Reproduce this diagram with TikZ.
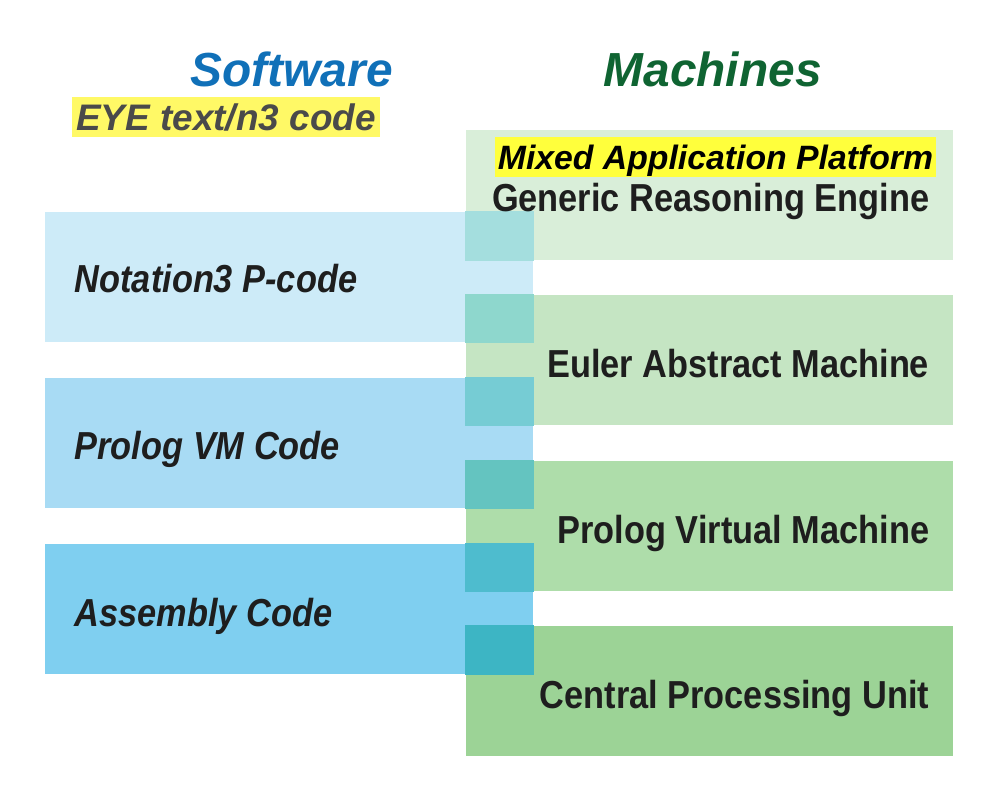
\documentclass[tikz,border=0pt]{standalone}
\usepackage{fontspec}
\setmainfont{Liberation Sans}
\newfontfamily\condsans[FakeStretch=0.88]{Liberation Sans}
\usetikzlibrary{positioning}

\definecolor{swblue}{HTML}{1070B8}
\definecolor{mcgreen}{HTML}{0F6432}
\definecolor{inkdark}{HTML}{1E1E1E}
\definecolor{eyegray}{HTML}{4A4A4A}
\definecolor{hlpale}{HTML}{FFF966}
\definecolor{hlbright}{HTML}{FFFF3C}
\definecolor{grnA}{HTML}{D9EED9}
\definecolor{grnB}{HTML}{C5E5C3}
\definecolor{grnC}{HTML}{AEDDAA}
\definecolor{grnD}{HTML}{9CD396}
\definecolor{bluA}{HTML}{CDEBF8}
\definecolor{bluB}{HTML}{A8DBF4}
\definecolor{bluC}{HTML}{7FCFF0}

\begin{document}
\begin{tikzpicture}[x=0.01cm,y=-0.01cm,
    mbox/.style={inner sep=0,minimum width=4.87cm,minimum height=1.3cm},
    sbox/.style={inner sep=0,minimum width=4.88cm,minimum height=1.3cm},
    mlabel/.style={anchor=base east,inner sep=0,text=inkdark,
      font=\condsans\bfseries\fontsize{11.1}{13}\selectfont},
    slabel/.style={anchor=base west,inner sep=0,text=inkdark,
      font=\condsans\bfseries\itshape\fontsize{11.1}{13}\selectfont},
    title/.style={anchor=base west,inner sep=0,
      font=\bfseries\itshape\fontsize{13.6}{16}\selectfont}]
\useasboundingbox (0,0) rectangle (1000,800);

% machines column
\node[mbox,fill=grnA] (gre) at (709.5,195) {};
\node[mbox,fill=grnB] (eam) at (709.5,360) {};
\node[mbox,fill=grnC] (pvm) at (709.5,526) {};
\node[mbox,fill=grnD] (cpu) at (709.5,691) {};

% software column
\node[sbox,fill=bluA] (ncode) at (289,277) {};
\node[sbox,fill=bluB] (pcode) at (289,443) {};
\node[sbox,fill=bluC] (acode) at (289,609) {};

% overlaps
\fill[fill={rgb,255:red,164;green,222;blue,222}] (gre.south west) rectangle (ncode.north east);
\fill[fill={rgb,255:red,142;green,215;blue,205}] (eam.north west) rectangle (ncode.south east);
\fill[fill={rgb,255:red,118;green,204;blue,212}] (eam.south west) rectangle (pcode.north east);
\fill[fill={rgb,255:red,100;green,196;blue,192}] (pvm.north west) rectangle (pcode.south east);
\fill[fill={rgb,255:red,78;green,188;blue,206}] (pvm.south west) rectangle (acode.north east);
\fill[fill={rgb,255:red,61;green,181;blue,196}] (cpu.north west) rectangle (acode.south east);

% titles
\node[title,text=swblue] (sw) at (190,87) {Software};
\node[title,text=mcgreen] (mc) at (603,87) {Machines};
\node[fill=hlpale,text=eyegray,inner xsep=0,inner ysep=1.9pt,text height=7.6pt,text depth=0pt,
  minimum width=3.08cm,font=\bfseries\itshape\fontsize{10.5}{12}\selectfont] (eye) at (226,117) {EYE text/n3 code};
\node[fill=hlbright,text=black,inner xsep=0,inner ysep=2.2pt,text height=6.9pt,text depth=0pt,
  minimum width=4.41cm,font=\bfseries\itshape\fontsize{9.6}{11}\selectfont] (map) at (715.5,157) {Mixed Application Platform};

% labels
\node[mlabel] (lgre) at ([xshift=-0.24cm]gre.east |- 0,211) {Generic Reasoning Engine};
\node[mlabel] (leam) at ([xshift=-0.24cm]eam.east |- 0,377) {Euler Abstract Machine};
\node[mlabel] (lpvm) at ([xshift=-0.24cm]pvm.east |- 0,543) {Prolog Virtual Machine};
\node[mlabel] (lcpu) at ([xshift=-0.24cm]cpu.east |- 0,708) {Central Processing Unit};
\node[slabel] (lncode) at (74,292) {Notation3 P-code};
\node[slabel] (lpcode) at (74,459) {Prolog VM Code};
\node[slabel] (lacode) at (74,626) {Assembly Code};
\end{tikzpicture}
\end{document}
